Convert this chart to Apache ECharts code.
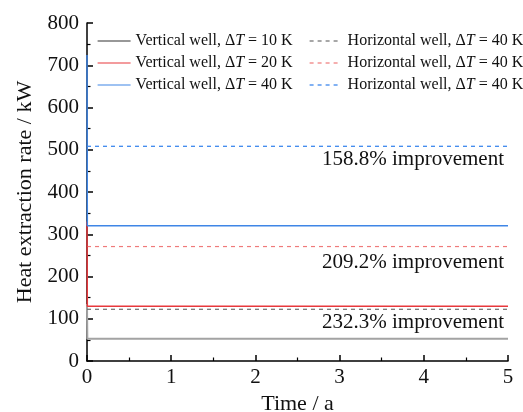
<!DOCTYPE html>
<html>
<head>
<meta charset="utf-8">
<script src="https://cdn.jsdelivr.net/npm/echarts@6/dist/echarts.min.js"></script>
<style>
  html, body { margin: 0; padding: 0; background: #fff; }
  #chart { width: 523px; height: 412px; }
</style>
</head>
<body>
<div id="chart"></div>
<script>
// Time axis (years) and heat extraction rate (kW) for each well case
const timeVertical = [0, 0.004, 5];
const vertical10 = [135, 52.7, 52.7];
const vertical20 = [330, 129.5, 129.5];
const vertical40 = [724, 320, 320];

const timeHorizontal = [0, 5];
const horizontal10 = [122.4, 122.4];
const horizontal20 = [270.9, 270.9];
const horizontal40 = [508.2, 508.2];

const xTicks = [0, 1, 2, 3, 4, 5];
const yTicks = [0, 100, 200, 300, 400, 500, 600, 700, 800];

// Improvement notes: [time, rate, text]
const notes = [
  [5, 476, '158.8% improvement'],
  [5, 232, '209.2% improvement'],
  [5, 90, '232.3% improvement']
];

const legendText = {
  V10: 'Vertical well, Δ{i|T} = 10 K',
  V20: 'Vertical well, Δ{i|T} = 20 K',
  V40: 'Vertical well, Δ{i|T} = 40 K',
  H10: 'Horizontal well, Δ{i|T} = 40 K',
  H20: 'Horizontal well, Δ{i|T} = 40 K',
  H40: 'Horizontal well, Δ{i|T} = 40 K'
};

const FONT = '"Liberation Serif", "Times New Roman", serif';

function pairs(xs, ys) { return xs.map((x, i) => [x, ys[i]]); }

function lineSeries(name, xs, ys, color, width, dashed, z) {
  return {
    name: name,
    type: 'line',
    data: pairs(xs, ys),
    symbol: 'none',
    showSymbol: false,
    animation: false,
    z: z,
    lineStyle: { color: color, width: width, type: dashed ? [4, 4] : 'solid' },
    itemStyle: { color: color }
  };
}

const chart = echarts.init(document.getElementById('chart'), null, { renderer: 'canvas' });

function legendBlock(left, iconWidth, textPad, names) {
  return {
    show: true,
    orient: 'vertical',
    left: left,
    top: 33,
    padding: 0,
    itemWidth: iconWidth,
    itemHeight: 14,
    itemGap: 6,
    selectedMode: false,
    data: names,
    itemStyle: { opacity: 0 },
    lineStyle: { width: 1.2 },
    formatter: function (n) { return legendText[n]; },
    textStyle: {
      fontFamily: FONT, fontSize: 16, color: '#111', padding: [0, 0, 0, textPad],
      rich: { i: { fontFamily: FONT, fontSize: 16, fontStyle: 'italic', color: '#111' } }
    }
  };
}

chart.setOption({
  backgroundColor: '#fff',
  animation: false,
  grid: { left: 87, right: 15, top: 23, bottom: 51, outerBoundsMode: 'none', containLabel: false },
  legend: [
    legendBlock(97, 33, 0, [
      { name: 'V10', lineStyle: { color: '#333', width: 1.2 } },
      'V20',
      'V40'
    ]),
    legendBlock(309, 29, 4, ['H10', 'H20', 'H40'])
  ],
  xAxis: {
    type: 'value',
    min: 0, max: 5, interval: 1,
    name: 'Time / a',
    nameLocation: 'middle',
    nameGap: 32,
    nameTextStyle: { fontFamily: FONT, fontSize: 22, color: '#111' },
    axisLine: { show: true, lineStyle: { color: '#000', width: 1.5 } },
    axisTick: { show: true, inside: true, length: 6, lineStyle: { color: '#000', width: 1.5 } },
    minorTick: { show: true, splitNumber: 2, length: 3.5, lineStyle: { color: '#000', width: 1.2 } },
    splitLine: { show: false },
    axisLabel: {
      fontFamily: FONT, fontSize: 21, color: '#111', margin: 6,
      formatter: v => xTicks.includes(v) ? String(v) : ''
    }
  },
  yAxis: {
    type: 'value',
    min: 0, max: 800, interval: 100,
    name: 'Heat extraction rate / kW',
    nameLocation: 'middle',
    nameGap: 50,
    nameTextStyle: { fontFamily: FONT, fontSize: 22, color: '#111' },
    axisLine: { show: true, lineStyle: { color: '#000', width: 1.5 } },
    axisTick: { show: true, inside: true, length: 6, lineStyle: { color: '#000', width: 1.5 } },
    minorTick: { show: true, splitNumber: 2, length: 3.5, lineStyle: { color: '#000', width: 1.2 } },
    splitLine: { show: false },
    axisLabel: {
      fontFamily: FONT, fontSize: 21, color: '#111', margin: 8,
      formatter: v => yTicks.includes(v) ? String(v) : ''
    }
  },
  series: [
    lineSeries('V10', timeVertical, vertical10, '#a3a3a3', 2, false, 2),
    lineSeries('V20', timeVertical, vertical20, '#e8383c', 1.5, false, 3),
    lineSeries('V40', timeVertical, vertical40, '#3f86e6', 1.5, false, 4),
    lineSeries('H10', timeHorizontal, horizontal10, '#6e6e6e', 1.2, true, 2),
    lineSeries('H20', timeHorizontal, horizontal20, '#ef7a7a', 1.2, true, 2),
    lineSeries('H40', timeHorizontal, horizontal40, '#2f7fec', 1.2, true, 2)
  ]
});

// Right-aligned improvement notes placed through the axis scales
chart.setOption({
  graphic: notes.map(n => {
    const p = chart.convertToPixel({ gridIndex: 0 }, [n[0], n[1]]);
    return {
      type: 'text',
      x: p[0] - 4,
      y: p[1],
      style: {
        text: n[2],
        align: 'right',
        verticalAlign: 'middle',
        font: '21px ' + FONT,
        fill: '#111'
      }
    };
  })
});
</script>
</body>
</html>
